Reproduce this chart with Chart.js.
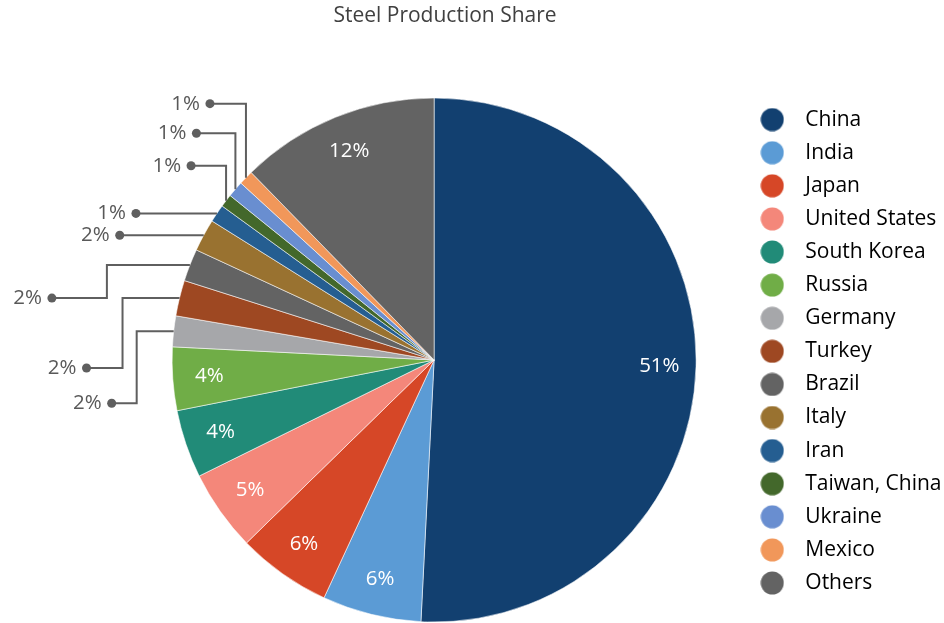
<!DOCTYPE html>
<html>
<head>
<meta charset="utf-8">
<title>Steel Production Share</title>
<script src="https://cdn.jsdelivr.net/npm/chart.js@4.4.1/dist/chart.umd.min.js"></script>
<style>
  html, body { margin: 0; padding: 0; background: #ffffff; }
  canvas { display: block; }
</style>
</head>
<body>
<canvas id="steelChart" width="944" height="623"></canvas>
<script>
// Share of world crude steel output, percent
const chartTitle = 'Steel Production Share';
const countries = ['China', 'India', 'Japan', 'United States', 'South Korea', 'Russia', 'Germany',
  'Turkey', 'Brazil', 'Italy', 'Iran', 'Taiwan, China', 'Ukraine', 'Mexico', 'Others'];
const shares = [50.8, 6.1, 5.8, 5.0, 4.2, 3.9, 1.9, 2.2, 2.0, 2.0, 1.1, 0.8, 1.0, 0.9, 12.3];
const sliceColors = ['#124070', '#5b9bd5', '#d64727', '#f4877a', '#218b78', '#70ad47', '#a6a7aa',
  '#9e4822', '#636363', '#997230', '#255e91', '#43682b', '#698ed0', '#f1975a', '#636363'];

// Leader lines for the thin slices: where the label dot sits relative to the slice's rim point,
// and how far right of the dot the line bends. null = label drawn inside the slice.
const leaderLayout = [null, null, null, null, null, null,
  { dx: -62, dy: 72, bend: 25 },
  { dx: -93, dy: 70, bend: 36 },
  { dx: -138, dy: 33, bend: 55 },
  { dx: -84, dy: 0, bend: 0 },
  { dx: -81, dy: 0, bend: 0 },
  { dx: -35, dy: -35, bend: 35 },
  { dx: -39, dy: -56, bend: 39 },
  { dx: -36, dy: -74, bend: 36 },
  null];

const FONT = '"Open Sans", "Noto Sans", sans-serif';
Chart.defaults.font.family = FONT;

// round legend swatches, drawn once per colour
function swatch(color) {
  const c = document.createElement('canvas');
  c.width = 24; c.height = 24;
  const g = c.getContext('2d');
  g.fillStyle = color;
  g.beginPath();
  g.arc(12, 12, 11.5, 0, Math.PI * 2);
  g.fill();
  return c;
}
const swatches = sliceColors.map(swatch);

const titlePlugin = {
  id: 'plainTitle',
  afterDraw(chart) {
    const ctx = chart.ctx;
    ctx.save();
    ctx.font = '21px ' + FONT;
    ctx.fillStyle = '#404040';
    ctx.textAlign = 'center';
    ctx.textBaseline = 'middle';
    ctx.fillText(chartTitle, 445, 16);
    ctx.restore();
  }
};

const sliceLabels = {
  id: 'sliceLabels',
  afterDatasetsDraw(chart) {
    const ctx = chart.ctx;
    const meta = chart.getDatasetMeta(0);
    const values = chart.data.datasets[0].data;
    const total = values.reduce((a, b) => a + b, 0);
    ctx.save();
    ctx.font = '20.5px ' + FONT;
    ctx.textBaseline = 'middle';
    meta.data.forEach((arc, i) => {
      const p = arc.getProps(['x', 'y', 'startAngle', 'endAngle', 'outerRadius'], true);
      const mid = (p.startAngle + p.endAngle) / 2;
      const text = Math.round(values[i] / total * 100) + '%';
      const lead = leaderLayout[i];
      if (!lead) {
        const r = p.outerRadius * 0.86;
        ctx.fillStyle = '#ffffff';
        ctx.textAlign = 'center';
        ctx.fillText(text, p.x + Math.cos(mid) * r, p.y + Math.sin(mid) * r);
        return;
      }
      const ax = p.x + Math.cos(mid) * p.outerRadius;
      const ay = p.y + Math.sin(mid) * p.outerRadius;
      const dotX = ax + lead.dx, dotY = ay + lead.dy, bendX = dotX + lead.bend;
      ctx.strokeStyle = '#5f5f5f';
      ctx.lineWidth = 2;
      ctx.lineJoin = 'miter';
      ctx.beginPath();
      ctx.moveTo(ax, ay);
      ctx.lineTo(bendX, ay);
      ctx.lineTo(bendX, dotY);
      ctx.lineTo(dotX, dotY);
      ctx.stroke();
      ctx.fillStyle = '#5f5f5f';
      ctx.beginPath();
      ctx.arc(dotX, dotY, 4.5, 0, Math.PI * 2);
      ctx.fill();
      ctx.fillStyle = '#595959';
      ctx.textAlign = 'right';
      ctx.fillText(text, dotX - 10, dotY);
    });
    ctx.restore();
  }
};

new Chart(document.getElementById('steelChart'), {
  type: 'pie',
  data: {
    labels: countries,
    datasets: [{
      data: shares,
      backgroundColor: sliceColors,
      borderColor: 'rgba(255,255,255,0.55)',
      borderWidth: 1
    }]
  },
  options: {
    responsive: false,
    animation: false,
    radius: 262,
    layout: { padding: { top: 97, bottom: 0, left: 130.5, right: -7.5 } },
    plugins: {
      title: { display: false },
      tooltip: { enabled: false },
      legend: {
        position: 'right',
        align: 'start',
        labels: {
          usePointStyle: true,
          pointStyleWidth: 45,
          boxHeight: 20,
          padding: 12.1,
          color: '#404040',
          font: { family: FONT, size: 21 },
          generateLabels(chart) {
            return chart.data.labels.map((label, i) => ({
              text: label,
              fillStyle: sliceColors[i],
              strokeStyle: sliceColors[i],
              lineWidth: 0,
              pointStyle: swatches[i],
              hidden: false,
              index: i
            }));
          }
        }
      }
    }
  },
  plugins: [sliceLabels, titlePlugin]
});
</script>
</body>
</html>
